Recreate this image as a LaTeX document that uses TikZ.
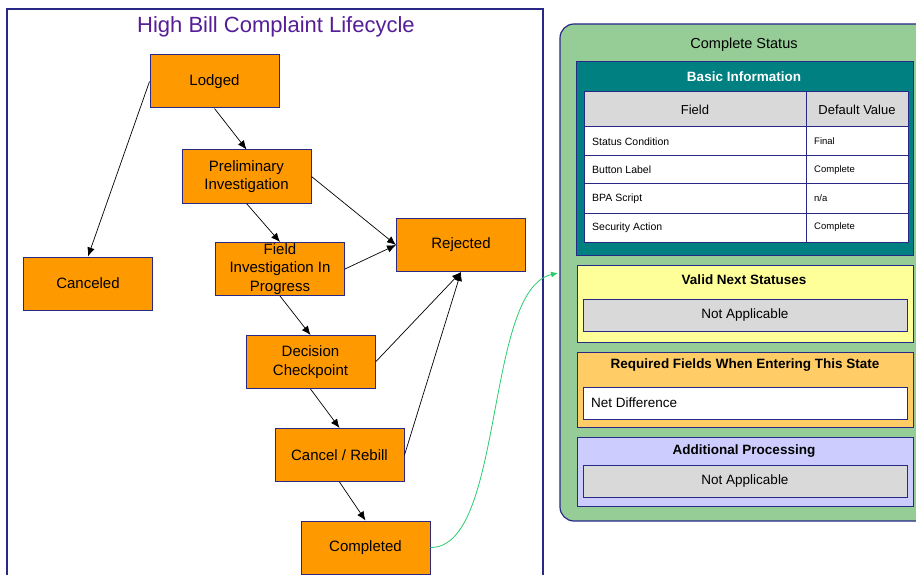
\documentclass[tikz,border=0pt]{standalone}
\usepackage{fontspec}
\setmainfont{Liberation Sans}
\usetikzlibrary{arrows.meta}

\definecolor{navy}{RGB}{40,40,135}
\definecolor{stateorange}{RGB}{255,153,0}
\definecolor{titlepurple}{RGB}{85,30,150}
\definecolor{panelgreen}{RGB}{150,204,150}
\definecolor{infoteal}{RGB}{0,128,128}
\definecolor{cellgray}{RGB}{217,217,217}
\definecolor{nextyellow}{RGB}{255,255,153}
\definecolor{reqorange}{RGB}{255,204,102}
\definecolor{procblue}{RGB}{204,204,255}
\definecolor{linkgreen}{RGB}{40,205,110}

\tikzset{
  state/.style={draw=navy, line width=1pt, fill=stateorange, minimum width=129,
    minimum height=53, inner sep=0pt, align=center,
    font=\fontsize{15}{18.5}\selectfont},
  trans/.style={-{Latex[length=9pt,width=7.5pt]}, line width=0.7pt},
  box/.style={draw=navy, line width=1pt},
  boxtitle/.style={font=\bfseries\fontsize{13.5}{16}\selectfont},
  cell/.style={font=\fontsize{10.5}{12}\selectfont, anchor=west, inner sep=0pt},
}

\begin{document}
\begin{tikzpicture}[x=1pt, y=-1pt]
  \useasboundingbox (0,0) rectangle (916,575);
  \clip (0,0) rectangle (916,575);

  % lifecycle
  \draw[navy, line width=1.2pt] (7,9) rectangle (543,590);
  \node[text=titlepurple, font=\fontsize{22}{25}\selectfont] (title) at (276,27)
    {High Bill Complaint Lifecycle};

  \node[state] (lodged) at (214.5,81.5) {Lodged};
  \node[state] (prelim) at (246.5,176.5) {Preliminary\\Investigation};
  \node[state] (field) at (280,269) {Field\\Investigation In\\Progress};
  \node[state] (rejected) at (461,245) {Rejected};
  \node[state] (canceled) at (88,283.5) {Canceled};
  \node[state] (decision) at (310.5,362) {Decision\\Checkpoint};
  \node[state] (rebill) at (339.5,455) {Cancel / Rebill};
  \node[state] (completed) at (365.5,547.5) {Completed};

  \draw[trans] (lodged.south) -- (prelim.north);
  \draw[trans] (lodged.west) -- (canceled.north);
  \draw[trans] (prelim.south) -- (field.north);
  \draw[trans] (prelim.east) -- (rejected.west);
  \draw[trans] (field.east) -- (rejected.west);
  \draw[trans] (field.south) -- (decision.north);
  \draw[trans] (decision.east) -- (rejected.south);
  \draw[trans] (decision.south) -- (rebill.north);
  \draw[trans] (rebill.east) -- (rejected.south);
  \draw[trans] (rebill.south) -- (completed.north);

  % complete status panel
  \draw[box, line width=1.2pt, fill=panelgreen, rounded corners=14] (560,24) rectangle (930,521);
  \node[font=\fontsize{14.5}{17}\selectfont] (status) at (744,45) {Complete Status};
  \coordinate (statusin) at (558,273);

  \draw[box, fill=infoteal] (576,62) rectangle (913,255);
  \node[boxtitle, text=white] (basic) at (744,77) {Basic Information};
  \draw[box, fill=cellgray] (584,92) rectangle (908,127);
  \draw[box, fill=white] (584,127) rectangle (908,242);
  \draw[box] (584,156) -- (908,156) (584,184) -- (908,184) (584,213) -- (908,213);
  \draw[box] (806,92) -- (806,242);
  \node[font=\fontsize{13}{15}\selectfont] (fieldhead) at (695,109.5) {Field};
  \node[font=\fontsize{13}{15}\selectfont] (valuehead) at (857,109.5) {Default Value};
  \node[cell] (cond) at (592,141.5) {Status Condition};
  \node[cell] (btn) at (592,170) {Button Label};
  \node[cell] (bpa) at (592,198.5) {BPA Script};
  \node[cell] (sec) at (592,227.5) {Security Action};
  \node[cell, font=\fontsize{9.5}{11}\selectfont] (condval) at (814,141.5) {Final};
  \node[cell, font=\fontsize{9.5}{11}\selectfont] (btnval) at (814,170) {Complete};
  \node[cell, font=\fontsize{9.5}{11}\selectfont] (bpaval) at (814,198.5) {n/a};
  \node[cell, font=\fontsize{9.5}{11}\selectfont] (secval) at (814,227.5) {Complete};

  \draw[box, fill=nextyellow] (577,265) rectangle (913,342);
  \node[boxtitle] (next) at (744,280) {Valid Next Statuses};
  \draw[box, fill=cellgray] (583,299) rectangle (907,331);
  \node[font=\fontsize{13.5}{16}\selectfont] (nextval) at (745,315) {Not Applicable};

  \draw[box, fill=reqorange] (577,352) rectangle (913,427);
  \node[boxtitle] (req) at (745,365) {Required Fields When Entering This State};
  \draw[box, fill=white] (583,387) rectangle (907,419);
  \node[cell, font=\fontsize{13.5}{16}\selectfont] (reqval) at (591,403) {Net Difference};

  \draw[box, fill=procblue] (577,437) rectangle (913,506);
  \node[boxtitle] (proc) at (744,451) {Additional Processing};
  \draw[box, fill=cellgray] (583,465) rectangle (907,497);
  \node[font=\fontsize{13.5}{16}\selectfont] (procval) at (745,481) {Not Applicable};

  % link to status panel
  \draw[linkgreen, line width=0.8pt, -{Latex[length=7pt,width=6pt]}] (completed.east)
    .. controls (505,548) and (484,290) .. (statusin);
\end{tikzpicture}
\end{document}
